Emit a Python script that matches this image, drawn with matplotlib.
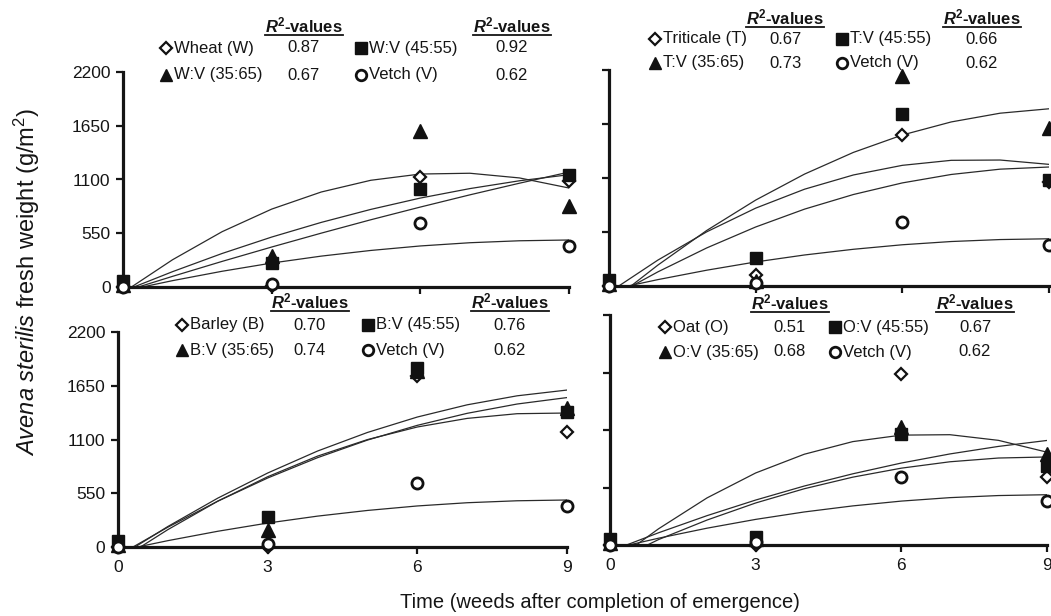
import matplotlib
matplotlib.use("Agg")
import matplotlib.pyplot as plt
from matplotlib.lines import Line2D

plt.rcParams['font.family'] = ['Liberation Sans', 'DejaVu Sans']
plt.rcParams['mathtext.fontset'] = 'custom'
plt.rcParams['mathtext.it'] = 'Liberation Sans:italic'
plt.rcParams['mathtext.rm'] = 'Liberation Sans'
plt.rcParams['mathtext.bf'] = 'Liberation Sans:bold'
plt.rcParams['mathtext.bfit'] = 'Liberation Sans:italic:bold'

W, H = 1051, 616

# ---------------- data ----------------
weeks = [0, 3, 6, 9]
y_ticks = [0, 550, 1100, 1650, 2200]
x_ticks = [0, 3, 6, 9]

# Vetch (V) sole crop, same in every panel
vetch = [0, 30, 650, 420]

# Wheat panel
wheat = [0, 10, 1125, 1080]
wv_45_55 = [60, 250, 1000, 1150]
wv_35_65 = [20, 320, 1600, 830]

# Triticale panel
triticale = [0, 110, 1540, 1060]
tv_45_55 = [60, 285, 1750, 1080]
tv_35_65 = [20, 50, 2140, 1610]

# Barley panel
barley = [0, 0, 1750, 1180]
bv_45_55 = [60, 305, 1830, 1380]
bv_35_65 = [20, 175, 1800, 1420]

# Oat panel
oat = [0, 0, 1640, 650]
ov_45_55 = [60, 80, 1060, 760]
ov_35_65 = [20, 60, 1130, 870]

# fitted trend lines, read at x = start, 1, 2, ..., 9
fit_weeks = [1, 2, 3, 4, 5, 6, 7, 8, 9]
fit_vetch_start = 0.39
fit_vetch = [65, 161, 245, 316, 374, 420, 453, 473, 481]

fit_wheat_start = 0.17
fit_wheat = [279, 566, 797, 972, 1092, 1156, 1164, 1116, 1013]
fit_wv_a_start = 0.22
fit_wv_a = [157, 343, 511, 661, 794, 910, 1007, 1087, 1149]
fit_wv_b_start = 0.31
fit_wv_b = [109, 262, 409, 551, 688, 818, 943, 1062, 1176]

fit_triticale_start = 0.45
fit_triticale = [213, 566, 875, 1140, 1361, 1538, 1671, 1760, 1805]
fit_tv_a_start = 0.20
fit_tv_a = [264, 552, 793, 986, 1131, 1229, 1280, 1283, 1239]
fit_tv_b_start = 0.47
fit_tv_b = [144, 388, 601, 783, 932, 1050, 1136, 1190, 1212]

fit_barley_start = 0.34
fit_barley = [210, 500, 757, 982, 1172, 1330, 1455, 1547, 1606]
fit_bv_a_start = 0.30
fit_bv_a = [203, 469, 706, 914, 1094, 1245, 1368, 1463, 1529]
fit_bv_b_start = 0.45
fit_bv_b = [178, 469, 719, 930, 1099, 1228, 1316, 1364, 1371]

fit_oat_start = 0.54
fit_oat = [155, 451, 689, 868, 989, 1051, 1055, 1001, 888]
fit_ov_a_start = 0.34
fit_ov_a = [117, 281, 430, 564, 681, 784, 871, 943, 1000]
fit_ov_b_start = 0.77
fit_ov_b = [52, 239, 402, 538, 649, 735, 796, 832, 842]

# legend texts
tl_labels = ["Wheat (W)", "W:V (35:65)", "W:V (45:55)", "Vetch (V)"]
tl_r2 = ["0.87", "0.67", "0.92", "0.62"]
tr_labels = ["Triticale (T)", "T:V (35:65)", "T:V (45:55)", "Vetch (V)"]
tr_r2 = ["0.67", "0.73", "0.66", "0.62"]
bl_labels = ["Barley (B)", "B:V (35:65)", "B:V (45:55)", "Vetch (V)"]
bl_r2 = ["0.70", "0.74", "0.76", "0.62"]
br_labels = ["Oat (O)", "O:V (35:65)", "O:V (45:55)", "Vetch (V)"]
br_r2 = ["0.51", "0.68", "0.67", "0.62"]

# ---------------- layout (pixels) ----------------
panels = [
    dict(box=(123, 569, 287, 72), series=[wheat, wv_45_55, wv_35_65, vetch],
         fits=[(fit_wheat_start, fit_wheat), (fit_wv_a_start, fit_wv_a),
               (fit_wv_b_start, fit_wv_b), (fit_vetch_start, fit_vetch)],
         xlab=False, ylab=True, labels=tl_labels, r2=tl_r2,
         leg=dict(m1=166, c1=304, m2=361, c2=512, yh=25, y1=48, y2=75)),
    dict(box=(609, 1049, 286, 70), series=[triticale, tv_45_55, tv_35_65, vetch],
         fits=[(fit_triticale_start, fit_triticale), (fit_tv_a_start, fit_tv_a),
               (fit_tv_b_start, fit_tv_b), (fit_vetch_start, fit_vetch)],
         xlab=False, ylab=False, labels=tr_labels, r2=tr_r2,
         leg=dict(m1=655, c1=785, m2=842, c2=982, yh=17, y1=39, y2=63)),
    dict(box=(118, 567, 547, 332), series=[barley, bv_45_55, bv_35_65, vetch],
         fits=[(fit_barley_start, fit_barley), (fit_bv_a_start, fit_bv_a),
               (fit_bv_b_start, fit_bv_b), (fit_vetch_start, fit_vetch)],
         xlab=True, ylab=True, labels=bl_labels, r2=bl_r2,
         leg=dict(m1=182, c1=310, m2=368, c2=510, yh=301, y1=325, y2=350)),
    dict(box=(610, 1047, 545, 315), series=[oat, ov_45_55, ov_35_65, vetch],
         fits=[(fit_oat_start, fit_oat), (fit_ov_a_start, fit_ov_a),
               (fit_ov_b_start, fit_ov_b), (fit_vetch_start, fit_vetch)],
         xlab=True, ylab=False, labels=br_labels, r2=br_r2,
         leg=dict(m1=665, c1=790, m2=835, c2=975, yh=302, y1=327, y2=352)),
]

styles = [
    dict(marker='D', ms=6.5, mfc='white', mec='#111', mew=1.6),   # sole cereal
    dict(marker='s', ms=8.5, mfc='#111', mec='#111', mew=1.0),     # 45:55
    dict(marker='^', ms=9.5, mfc='#111', mec='#111', mew=1.0),     # 35:65
    dict(marker='o', ms=8.0, mfc='white', mec='#111', mew=2.0),    # vetch
]
# legend order: row1 col1 = sole, row2 col1 = 35:65, row1 col2 = 45:55, row2 col2 = vetch
leg_style_idx = [0, 2, 1, 3]

ink = '#151515'
fig = plt.figure(figsize=(W / 100, H / 100), dpi=100)

def fx(px):
    return px / W

def fy(py):
    return 1 - py / H

header_texts = []
for p in panels:
    l, r, b, t = p['box']
    ax = fig.add_axes([fx(l), fy(b), (r - l) / W, (b - t) / H])
    ax.set_xlim(0, 9)
    ax.set_ylim(0, 2200)
    for s in ('top', 'right'):
        ax.spines[s].set_visible(False)
    for s in ('left', 'bottom'):
        ax.spines[s].set_linewidth(2.3)
        ax.spines[s].set_color(ink)
    ax.set_xticks(x_ticks)
    ax.set_yticks(y_ticks)
    ax.tick_params(direction='out', length=5, width=1.6, color=ink,
                   labelsize=12.5, labelcolor=ink, pad=4)
    if not p['xlab']:
        ax.set_xticklabels([])
    if not p['ylab']:
        ax.set_yticklabels([])
    ax.patch.set_alpha(0)
    for x0, ys in p['fits']:
        ax.plot([x0] + fit_weeks, [0] + ys, color='#2a2a2a', lw=0.9, zorder=2)
    for ser, st in zip(p['series'], styles):
        ax.plot(weeks, ser, linestyle='none', clip_on=False, zorder=5, **st)

    lg = p['leg']
    for k in range(4):
        col = k // 2
        row = k % 2
        mx = lg['m1'] if col == 0 else lg['m2']
        cx = lg['c1'] if col == 0 else lg['c2']
        yy = lg['y1'] if row == 0 else lg['y2']
        st = dict(styles[leg_style_idx[k]])
        st['ms'] = st['ms'] * 0.95
        fig.add_artist(Line2D([fx(mx)], [fy(yy)], transform=fig.transFigure,
                              linestyle='none', **st))
        fig.text(fx(mx + 8), fy(yy), p['labels'][k], ha='left', va='center',
                 fontsize=12, color=ink)
        fig.text(fx(cx), fy(yy), p['r2'][k], ha='center', va='center',
                 fontsize=12, color=ink)
    for cx in (lg['c1'], lg['c2']):
        t_ = fig.text(fx(cx), fy(lg['yh']), r"$\mathbfit{R}^{\mathbf{2}}$-values",
                      ha='center', va='center', fontsize=12, fontweight='bold',
                      color=ink)
        header_texts.append(t_)

fig.text(fx(600), fy(603), "Time (weeds after completion of emergence)",
         ha='center', va='center', fontsize=14.5, color=ink)
fig.text(fx(27), fy(282), r"$\mathit{Avena\ sterilis}$ fresh weight (g/m$^{2}$)",
         ha='center', va='center', rotation=90, fontsize=17, color=ink)

fig.canvas.draw()
renderer = fig.canvas.get_renderer()
for t_ in header_texts:
    bb = t_.get_window_extent(renderer)
    yline = (bb.y0 - 0.5) / H
    fig.add_artist(Line2D([bb.x0 / W, bb.x1 / W], [yline, yline],
                          transform=fig.transFigure, color=ink, lw=1.3))

fig.savefig("out.png", dpi=100)
